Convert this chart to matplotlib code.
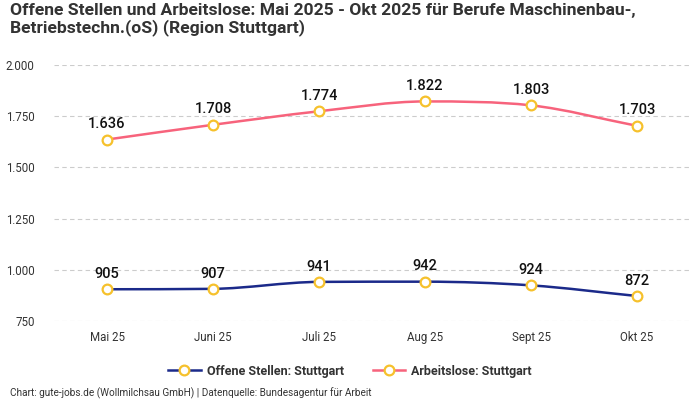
import numpy as np
import matplotlib.pyplot as plt
from matplotlib.path import Path
from matplotlib.patches import PathPatch
from matplotlib.lines import Line2D
from matplotlib.ticker import FuncFormatter

plt.rcParams['font.family'] = ['Roboto', 'DejaVu Sans']

monate = ['Mai 25', 'Juni 25', 'Juli 25', 'Aug 25', 'Sept 25', 'Okt 25']
offene_stellen = [905, 907, 941, 942, 924, 872]
arbeitslose = [1636, 1708, 1774, 1822, 1803, 1703]
y_ticks = [750, 1000, 1250, 1500, 1750, 2000]

BLAU = '#1b2a8a'
ROSA = '#f7637c'
GELB = '#f6c12c'


def monotone_path(xs, ys):
    # monotone kubische Kurve (wie curveMonotoneX) als Bezier-Pfad
    xs = np.asarray(xs, float)
    ys = np.asarray(ys, float)
    n = len(xs)
    h = np.diff(xs)
    d = np.diff(ys) / h
    m = np.zeros(n)
    m[0] = d[0]
    m[-1] = d[-1]
    for i in range(1, n - 1):
        if d[i - 1] * d[i] <= 0:
            m[i] = 0
        else:
            m[i] = (d[i - 1] + d[i]) / 2
            s = min(abs(d[i - 1]), abs(d[i]))
            m[i] = np.sign(m[i]) * min(abs(m[i]), 3 * s)
    verts = [(xs[0], ys[0])]
    codes = [Path.MOVETO]
    for i in range(n - 1):
        dx = h[i] / 3
        verts += [(xs[i] + dx, ys[i] + m[i] * dx),
                  (xs[i + 1] - dx, ys[i + 1] - m[i + 1] * dx),
                  (xs[i + 1], ys[i + 1])]
        codes += [Path.CURVE4] * 3
    return Path(verts, codes)


fig = plt.figure(figsize=(7, 4), dpi=100)
ax = fig.add_axes([54 / 700, 1 - 321 / 400, 636 / 700, 256 / 400])

x = np.arange(len(monate))
for werte, farbe in [(offene_stellen, BLAU), (arbeitslose, ROSA)]:
    ax.add_patch(PathPatch(monotone_path(x, werte), facecolor='none',
                           edgecolor=farbe, lw=1.8, zorder=3))
    ax.plot(x, werte, ls='none', marker='o', ms=7, mfc='white', mec=GELB,
            mew=1.6, zorder=4)
    for xi, v in zip(x, werte):
        ax.annotate(f'{v:,}'.replace(',', '.'), (xi, v), xytext=(0, 6),
                    textcoords='offset points', ha='center', va='bottom',
                    fontsize=10.5, fontweight='medium', color='#111111', zorder=5)

ax.set_xlim(-0.5, len(monate) - 0.5)
ax.set_ylim(750, 2000)
ax.set_xticks(x)
ax.set_xticklabels(monate)
ax.set_yticks(y_ticks)
ax.yaxis.set_major_formatter(FuncFormatter(lambda v, p: f'{int(v):,}'.replace(',', '.')))
ax.tick_params(axis='both', length=0, labelsize=8.3, colors='#333333')
ax.tick_params(axis='x', pad=7)
ax.tick_params(axis='y', pad=14)
ax.grid(axis='y', ls=(0, (4, 3)), color='#cccccc', lw=0.8)
ax.set_axisbelow(True)
for s in ax.spines.values():
    s.set_visible(False)

fig.text(10 / 700, 1 - 3 / 400,
         'Offene Stellen und Arbeitslose: Mai 2025 - Okt 2025 für Berufe Maschinenbau-,\nBetriebstechn.(oS) (Region Stuttgart)',
         ha='left', va='top', fontsize=12.6, fontweight='bold', color='#333333',
         linespacing=1.1)

handles = [Line2D([], [], color=BLAU, lw=1.8, marker='o', ms=7, mfc='white', mec=GELB, mew=1.6),
           Line2D([], [], color=ROSA, lw=1.8, marker='o', ms=7, mfc='white', mec=GELB, mew=1.6)]
fig.legend(handles, ['Offene Stellen: Stuttgart', 'Arbeitslose: Stuttgart'],
           loc='center', bbox_to_anchor=(350 / 700, 1 - 371 / 400), ncol=2,
           frameon=False, prop={'size': 9, 'weight': 'bold'}, labelcolor='#333333',
           handlelength=2.6, columnspacing=2.3, handletextpad=0.5)

fig.text(10 / 700, 1 - 393 / 400,
         'Chart: gute-jobs.de (Wollmilchsau GmbH) | Datenquelle: Bundesagentur für Arbeit',
         ha='left', va='center', fontsize=7.2, color='#333333')

fig.savefig('out.png', dpi=100, facecolor='white')
